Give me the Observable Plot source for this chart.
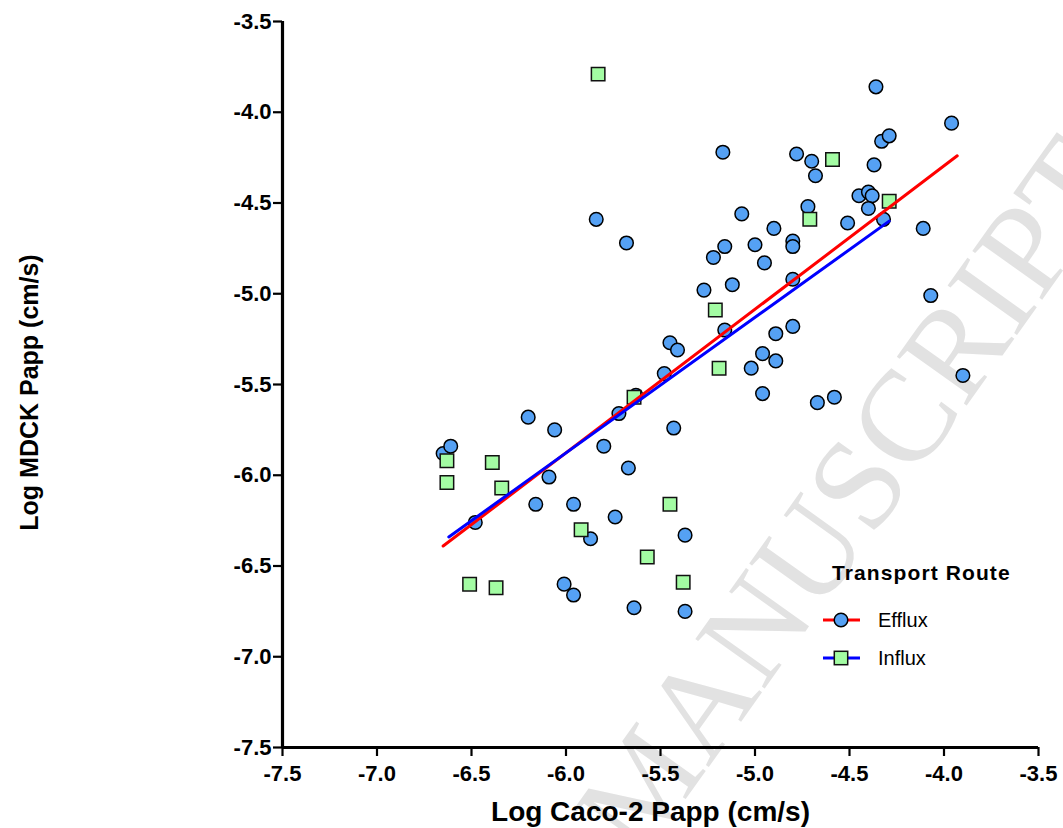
<!DOCTYPE html>
<html><head><meta charset="utf-8">
<script src="https://cdn.jsdelivr.net/npm/d3@7"></script>
<script src="https://cdn.jsdelivr.net/npm/@observablehq/plot@0.6"></script>
<style>
body{margin:0;background:#fff;}
#wrap{position:relative;width:1063px;height:828px;overflow:hidden;background:#fff;}
#wrap > svg, #wrap > div{position:absolute;left:0;top:0;}
</style>
</head><body>
<div id="wrap"></div>
<script>
// ---- data ----
const effluxX = [-6.65,-6.61,-6.48,-6.20,-6.06,-6.09,-6.16,-5.96,-6.01,-5.96,-5.87,-5.80,-5.74,-5.72,-5.63,-5.67,-5.64,-5.43,-5.37,-5.37,-5.48,-5.45,-5.41,
  -5.16,-4.89,-4.80,-4.96,-4.89,-5.02,-4.96,-4.67,-4.58,-5.27,-5.12,-5.22,-5.16,-5.00,-4.95,-4.80,-5.07,-4.90,-4.80,-4.80,-5.84,-5.68,
  -5.17,-4.78,-4.70,-4.68,-4.72,-4.51,-4.45,-4.40,-4.38,-4.40,-4.37,-4.33,-4.29,-4.36,-3.96,-4.32,-4.11,-4.07,-3.90];
const effluxY = [-5.88,-5.84,-6.26,-5.68,-5.75,-6.01,-6.16,-6.16,-6.60,-6.66,-6.35,-5.84,-6.23,-5.66,-5.56,-5.96,-6.73,-5.74,-6.33,-6.75,-5.44,-5.27,-5.31,
  -5.20,-5.22,-5.18,-5.33,-5.37,-5.41,-5.55,-5.60,-5.57,-4.98,-4.95,-4.80,-4.74,-4.73,-4.83,-4.92,-4.56,-4.64,-4.71,-4.74,-4.59,-4.72,
  -4.22,-4.23,-4.27,-4.35,-4.52,-4.61,-4.46,-4.44,-4.46,-4.53,-4.29,-4.16,-4.13,-3.86,-4.06,-4.59,-4.64,-5.01,-5.45];
const influxX = [-6.63,-6.63,-6.39,-6.34,-6.51,-6.37,-5.92,-5.57,-5.45,-5.38,-5.64,-5.83,-5.21,-5.19,-4.71,-4.59,-4.29];
const influxY = [-5.92,-6.04,-5.93,-6.07,-6.60,-6.62,-6.30,-6.45,-6.16,-6.59,-5.57,-3.79,-5.09,-5.41,-4.59,-4.26,-4.49];
// fitted regression lines (end points)
const effluxFitX = [-6.65, -3.93];
const effluxFitY = [-6.39, -4.24];
const influxFitX = [-6.62, -4.29];
const influxFitY = [-6.34, -4.60];
const axisTicks = [-7.5,-7.0,-6.5,-6.0,-5.5,-5.0,-4.5,-4.0,-3.5];
const seriesNames = ["Efflux","Influx"];
const seriesLine = ["#ff0000","#0000ff"];
const seriesFill = ["#55a1f4","#a3fca3"];
const xTitle = "Log Caco-2 Papp (cm/s)";
const yTitle = "Log MDCK Papp (cm/s)";
const legendTitle = "Transport Route";
const watermark = ["ACCEPTED M","ANUSCRIPT"];

const efflux = effluxX.map((x,i)=>({x, y:effluxY[i]}));
const influx = influxX.map((x,i)=>({x, y:influxY[i]}));
const effFit = effluxFitX.map((x,i)=>({x, y:effluxFitY[i]}));
const infFit = influxFitX.map((x,i)=>({x, y:influxFitY[i]}));

const font = "'Liberation Sans', Arial, Helvetica, sans-serif";
const wrap = document.getElementById("wrap");

// watermark (background)
const wm = d3.select(wrap).append("svg").attr("width",1063).attr("height",828);
const wg = wm.append("g").attr("transform","translate(708,768) rotate(-54.5)")
  .attr("font-family","'Liberation Serif','DejaVu Serif',serif").attr("font-size",130).attr("fill","#e2e2e2");
wg.append("text").attr("text-anchor","end").text(watermark[0]);
wg.append("text").attr("text-anchor","start").text(watermark[1]);

const fmt = d => d.toFixed(1);
const chart = Plot.plot({
  width: 1063, height: 828,
  marginLeft: 282, marginRight: 25, marginTop: 21, marginBottom: 81,
  x: {domain: [-7.5, -3.5]},
  y: {domain: [-7.5, -3.5]},
  style: {background: "transparent", fontFamily: font, fontWeight: "bold", fontSize: "22px", color: "#000"},
  marks: [
    Plot.axisX({ticks: axisTicks, tickFormat: fmt, tickSize: 9, strokeWidth: 2.2, tickPadding: 9, fontSize: 22, fontWeight: "bold", label: null}),
    Plot.axisY({ticks: axisTicks, tickFormat: fmt, tickSize: 9, strokeWidth: 2.2, tickPadding: 2, fontSize: 22, fontWeight: "bold", label: null}),
    Plot.ruleX([-7.5], {strokeWidth: 3.2}),
    Plot.ruleY([-7.5], {strokeWidth: 3.2}),
    Plot.dot(efflux, {x: "x", y: "y", r: 6.8, symbol: "circle", fill: seriesFill[0], stroke: "#000", strokeWidth: 1.5}),
    Plot.dot(influx, {x: "x", y: "y", r: 7.6, symbol: "square", fill: seriesFill[1], stroke: "#111", strokeWidth: 1.5}),
    Plot.line(effFit, {x: "x", y: "y", stroke: seriesLine[0], strokeWidth: 3}),
    Plot.line(infFit, {x: "x", y: "y", stroke: seriesLine[1], strokeWidth: 3}),
    Plot.text([xTitle], {frameAnchor: "bottom", dx: -10, dy: 65, fontSize: 28, fontWeight: "bold", lineAnchor: "middle", textAnchor: "middle"}),
    Plot.text([yTitle], {frameAnchor: "left", dx: -253, dy: 8, rotate: -90, fontSize: 25, fontWeight: "bold", lineAnchor: "middle", textAnchor: "middle"})
  ]
});
wrap.appendChild(chart);

// legend
const lg = d3.select(wrap).append("svg").attr("width",1063).attr("height",828)
  .attr("font-family", font);
lg.append("text").attr("x",832).attr("y",580).attr("font-size",21).attr("font-weight","bold")
  .attr("letter-spacing",1.1).text(legendTitle);
seriesNames.forEach((name,i)=>{
  const cy = 620 + i*38;
  lg.append("line").attr("x1",823).attr("x2",860).attr("y1",cy).attr("y2",cy)
    .attr("stroke",seriesLine[i]).attr("stroke-width",3);
  if (i===0) lg.append("circle").attr("cx",841).attr("cy",cy).attr("r",6.8)
    .attr("fill",seriesFill[i]).attr("stroke","#000").attr("stroke-width",1.5);
  else lg.append("rect").attr("x",834.3).attr("y",cy-6.7).attr("width",13.4).attr("height",13.4)
    .attr("fill",seriesFill[i]).attr("stroke","#111").attr("stroke-width",1.5);
  lg.append("text").attr("x",878).attr("y",cy+7).attr("font-size",20).text(name);
});
</script>
</body></html>
